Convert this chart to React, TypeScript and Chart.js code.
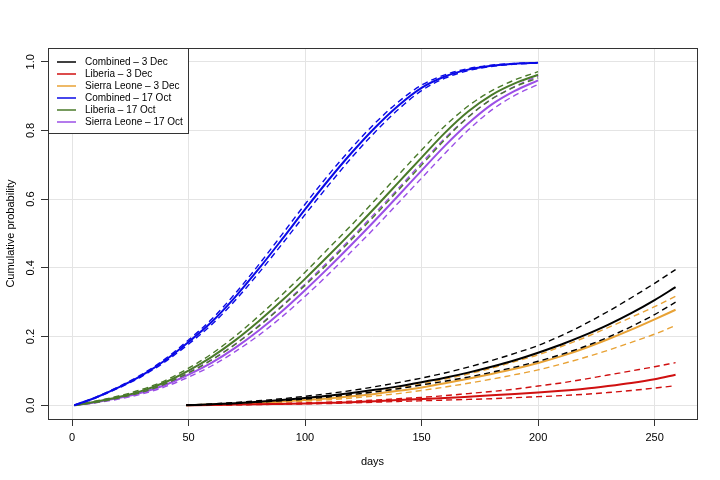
import React, { useEffect, useRef } from "react";
import { Chart, registerables } from "chart.js";

Chart.register(...registerables);

// ---- data ----
const days17 = [1, 10, 20, 30, 40, 50, 60, 70, 80, 90, 100, 110, 120, 130, 140, 150, 160, 170, 180, 190, 200];
const days3 = [49, 60, 70, 80, 90, 100, 110, 120, 130, 140, 150, 160, 170, 180, 190, 200, 210, 220, 230, 240, 250, 259];

const combined17 = [0, 0.022, 0.052, 0.087, 0.131, 0.184, 0.243, 0.315, 0.396, 0.482, 0.57, 0.655, 0.735, 0.808, 0.872, 0.924, 0.957, 0.977, 0.988, 0.994, 0.997];
const combined17Hi = [0, 0.023, 0.054, 0.09, 0.135, 0.19, 0.251, 0.325, 0.408, 0.496, 0.585, 0.67, 0.749, 0.821, 0.883, 0.932, 0.962, 0.98, 0.99, 0.995, 0.9975];
const combined17Lo = [0, 0.021, 0.05, 0.084, 0.127, 0.178, 0.235, 0.305, 0.384, 0.468, 0.555, 0.64, 0.721, 0.795, 0.861, 0.916, 0.952, 0.974, 0.986, 0.993, 0.9965];

const liberia17 = [0, 0.01, 0.024, 0.042, 0.067, 0.101, 0.141, 0.189, 0.244, 0.304, 0.368, 0.435, 0.504, 0.575, 0.648, 0.721, 0.793, 0.855, 0.903, 0.937, 0.962];
const liberia17Hi = [0, 0.012, 0.027, 0.046, 0.072, 0.108, 0.15, 0.201, 0.259, 0.321, 0.387, 0.456, 0.525, 0.597, 0.67, 0.743, 0.813, 0.871, 0.915, 0.947, 0.971];
const liberia17Lo = [0, 0.008, 0.021, 0.038, 0.062, 0.094, 0.132, 0.177, 0.229, 0.287, 0.349, 0.414, 0.483, 0.553, 0.626, 0.699, 0.773, 0.839, 0.891, 0.927, 0.953];

const sierra17 = [0, 0.009, 0.021, 0.037, 0.059, 0.089, 0.124, 0.167, 0.217, 0.273, 0.335, 0.4, 0.468, 0.538, 0.61, 0.683, 0.755, 0.82, 0.875, 0.915, 0.946];
const sierra17Hi = [0, 0.011, 0.024, 0.041, 0.064, 0.096, 0.133, 0.178, 0.231, 0.289, 0.353, 0.419, 0.488, 0.559, 0.631, 0.705, 0.777, 0.839, 0.891, 0.928, 0.958];
const sierra17Lo = [0, 0.007, 0.018, 0.033, 0.054, 0.082, 0.115, 0.156, 0.203, 0.257, 0.317, 0.381, 0.448, 0.517, 0.589, 0.661, 0.733, 0.801, 0.859, 0.902, 0.934];

const combined3 = [0, 0.003, 0.006, 0.01, 0.015, 0.021, 0.028, 0.036, 0.045, 0.055, 0.067, 0.08, 0.095, 0.112, 0.131, 0.153, 0.177, 0.204, 0.234, 0.268, 0.306, 0.344];
const combined3Hi = [0, 0.004, 0.008, 0.013, 0.019, 0.026, 0.034, 0.043, 0.054, 0.066, 0.079, 0.094, 0.111, 0.13, 0.151, 0.174, 0.203, 0.236, 0.273, 0.313, 0.355, 0.395];
const combined3Lo = [0, 0.002, 0.005, 0.009, 0.013, 0.018, 0.024, 0.031, 0.039, 0.048, 0.059, 0.07, 0.082, 0.096, 0.111, 0.128, 0.148, 0.171, 0.198, 0.229, 0.264, 0.3];

const liberia3 = [0, 0.001, 0.002, 0.003, 0.004, 0.005, 0.007, 0.009, 0.012, 0.015, 0.018, 0.021, 0.025, 0.029, 0.033, 0.037, 0.042, 0.048, 0.056, 0.065, 0.076, 0.089];
const liberia3Hi = [0, 0.001, 0.002, 0.003, 0.005, 0.007, 0.009, 0.012, 0.015, 0.019, 0.023, 0.028, 0.034, 0.04, 0.047, 0.056, 0.065, 0.076, 0.088, 0.1, 0.112, 0.124];
const liberia3Lo = [0, 0.0005, 0.001, 0.002, 0.003, 0.004, 0.005, 0.007, 0.009, 0.011, 0.013, 0.015, 0.017, 0.019, 0.022, 0.025, 0.028, 0.032, 0.037, 0.043, 0.05, 0.057];

const sierra3 = [0, 0.002, 0.004, 0.007, 0.011, 0.015, 0.02, 0.026, 0.033, 0.042, 0.052, 0.064, 0.077, 0.091, 0.106, 0.123, 0.143, 0.166, 0.192, 0.22, 0.25, 0.278];
const sierra3Hi = [0, 0.002, 0.005, 0.008, 0.013, 0.018, 0.024, 0.031, 0.04, 0.05, 0.062, 0.076, 0.091, 0.108, 0.127, 0.147, 0.171, 0.197, 0.226, 0.256, 0.287, 0.317];
const sierra3Lo = [0, 0.002, 0.003, 0.006, 0.009, 0.012, 0.016, 0.021, 0.027, 0.034, 0.043, 0.053, 0.064, 0.076, 0.089, 0.103, 0.12, 0.139, 0.16, 0.183, 0.207, 0.232];

const seriesNames = [
  "Combined \u2013 3 Dec",
  "Liberia \u2013 3 Dec",
  "Sierra Leone \u2013 3 Dec",
  "Combined \u2013 17 Oct",
  "Liberia \u2013 17 Oct",
  "Sierra Leone \u2013 17 Oct",
];
const seriesColors = ["#000000", "#d01010", "#e8a235", "#0a0ae6", "#4a7a2a", "#9b4fe6"];

const xTicks = [0, 50, 100, 150, 200, 250];
const yTicks = [0, 0.2, 0.4, 0.6, 0.8, 1.0];
const yTickLabels = ["0.0", "0.2", "0.4", "0.6", "0.8", "1.0"];
const xTitle = "days";
const yTitle = "Cumulative probability";

const FONT = '11px "Liberation Sans", Arial, Helvetica, sans-serif';
const LEGEND_FONT = '10px "Liberation Sans", Arial, Helvetica, sans-serif';

type Series = { days: number[]; mid: number[]; hi: number[]; lo: number[] };
const seriesData: Series[] = [
  { days: days3, mid: combined3, hi: combined3Hi, lo: combined3Lo },
  { days: days3, mid: liberia3, hi: liberia3Hi, lo: liberia3Lo },
  { days: days3, mid: sierra3, hi: sierra3Hi, lo: sierra3Lo },
  { days: days17, mid: combined17, hi: combined17Hi, lo: combined17Lo },
  { days: days17, mid: liberia17, hi: liberia17Hi, lo: liberia17Lo },
  { days: days17, mid: sierra17, hi: sierra17Hi, lo: sierra17Lo },
];

function pts(xs: number[], ys: number[]) {
  return xs.map((x, i) => ({ x, y: ys[i] }));
}

const framePlugin = {
  id: "rframe",
  afterDraw(chart: any) {
    const { ctx, chartArea: a, scales } = chart;
    ctx.save();
    // box
    ctx.strokeStyle = "#333333";
    ctx.lineWidth = 1;
    ctx.strokeRect(Math.round(a.left) + 0.5, Math.round(a.top) + 0.5, Math.round(a.right - a.left), Math.round(a.bottom - a.top));

    ctx.fillStyle = "#000000";
    ctx.font = FONT;
    ctx.textAlign = "center";
    ctx.textBaseline = "middle";
    // x tick labels
    xTicks.forEach((v) => {
      ctx.fillText(String(v), scales.x.getPixelForValue(v), a.bottom + 19);
    });
    // x title
    ctx.fillText(xTitle, (a.left + a.right) / 2, a.bottom + 43);
    // y tick labels (rotated)
    yTicks.forEach((v, i) => {
      const y = scales.y.getPixelForValue(v);
      ctx.save();
      ctx.translate(a.left - 17, y);
      ctx.rotate(-Math.PI / 2);
      ctx.fillText(yTickLabels[i], 0, 0);
      ctx.restore();
    });
    // y title
    ctx.save();
    ctx.translate(a.left - 37, (a.top + a.bottom) / 2);
    ctx.rotate(-Math.PI / 2);
    ctx.fillText(yTitle, 0, 0);
    ctx.restore();

    // legend
    const lx = Math.round(a.left) + 0.5;
    const ly = Math.round(a.top) + 0.5;
    const lw = 140;
    const lh = 85;
    ctx.fillStyle = "#ffffff";
    ctx.fillRect(lx, ly, lw, lh);
    ctx.strokeStyle = "#333333";
    ctx.lineWidth = 1;
    ctx.strokeRect(lx, ly, lw, lh);
    ctx.textAlign = "left";
    ctx.font = LEGEND_FONT;
    seriesNames.forEach((name, i) => {
      const y = a.top + 14 + 12 * i;
      ctx.strokeStyle = seriesColors[i];
      ctx.lineWidth = 1.5;
      ctx.beginPath();
      ctx.moveTo(a.left + 9, y);
      ctx.lineTo(a.left + 28, y);
      ctx.stroke();
      ctx.fillStyle = "#000000";
      ctx.fillText(name, a.left + 37, y + 0.5);
    });
    ctx.restore();
  },
};

export default function App() {
  const ref = useRef<HTMLCanvasElement | null>(null);

  useEffect(() => {
    if (!ref.current) return;
    const datasets: any[] = [];
    seriesData.forEach((s, i) => {
      const color = seriesColors[i];
      datasets.push({
        label: seriesNames[i] + " upper",
        data: pts(s.days, s.hi),
        borderColor: color,
        borderWidth: 1.4,
        borderDash: [6, 4],
        pointRadius: 0,
        fill: false,
        cubicInterpolationMode: "monotone",
      });
      datasets.push({
        label: seriesNames[i] + " lower",
        data: pts(s.days, s.lo),
        borderColor: color,
        borderWidth: 1.4,
        borderDash: [6, 4],
        pointRadius: 0,
        fill: false,
        cubicInterpolationMode: "monotone",
      });
      datasets.push({
        label: seriesNames[i],
        data: pts(s.days, s.mid),
        borderColor: color,
        borderWidth: 2,
        pointRadius: 0,
        fill: false,
        cubicInterpolationMode: "monotone",
      });
    });

    const chart = new Chart(ref.current, {
      type: "line",
      data: { datasets },
      options: {
        responsive: false,
        maintainAspectRatio: false,
        animation: false,
        layout: { padding: { left: 0, top: 48, right: 23, bottom: 0 } },
        plugins: {
          legend: { display: false },
          tooltip: { enabled: false },
          title: { display: false },
        },
        scales: {
          x: {
            type: "linear",
            min: -10.3,
            max: 268.2,
            afterBuildTicks: (scale: any) => {
              scale.ticks = xTicks.map((v) => ({ value: v }));
            },
            afterFit: (scale: any) => {
              scale.height = 61;
            },
            ticks: { display: false },
            grid: { color: "#e4e4e4", tickColor: "#333333", tickLength: 7, lineWidth: 1 },
            border: { display: false },
          },
          y: {
            type: "linear",
            min: -0.04,
            max: 1.04,
            afterBuildTicks: (scale: any) => {
              scale.ticks = yTicks.map((v) => ({ value: v }));
            },
            afterFit: (scale: any) => {
              scale.width = 48;
            },
            ticks: { display: false },
            grid: { color: "#e4e4e4", tickColor: "#333333", tickLength: 7, lineWidth: 1 },
            border: { display: false },
          },
        },
      },
      plugins: [framePlugin],
    });
    return () => chart.destroy();
  }, []);

  return (
    <div style={{ position: "absolute", left: 0, top: 0, width: 720, height: 480, background: "#ffffff" }}>
      <canvas ref={ref} width={720} height={480} style={{ display: "block" }} />
    </div>
  );
}
